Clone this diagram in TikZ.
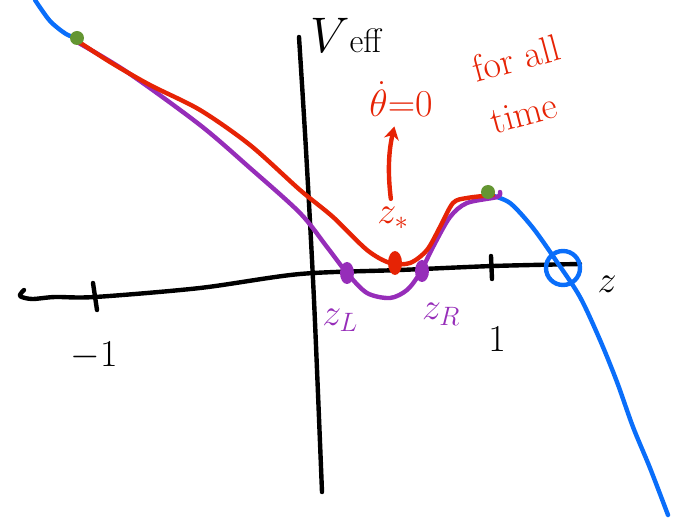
\RequirePackage{fix-cm}
\documentclass[tikz,border=0pt]{standalone}
\usepackage{amsmath,amssymb}
\usepackage{xcolor}
\usepackage{tikz}
\usetikzlibrary{arrows.meta,positioning,calc}
\definecolor{penblue}{RGB}{10,110,250}
\definecolor{penred}{RGB}{230,35,5}
\definecolor{penpurple}{RGB}{150,45,185}
\definecolor{pengreen}{RGB}{100,150,50}

\begin{document}
\begin{tikzpicture}[x=1pt,y=-1pt,line cap=round,line join=round,
  pen/.style={line width=4.4pt},
  hand/.style={inner sep=0pt,font=\fontsize{38}{38}\selectfont}]
\useasboundingbox (0,0) rectangle (678,529);
% axes
\draw[pen] plot[smooth] coordinates {(24,290) (20,296) (32,299) (55,297) (95,297) (200,288) (300,274) (400,270) (493,266) (580,264)};
\draw[pen] plot[smooth] coordinates {(299,37) (306,150) (314,300) (322,492)};
\draw[pen] (93,283) -- (97,310);
\draw[pen] (491,256) -- (492,279);
\node[hand] (mone) at (94,356) {$-1$};
\node[hand] (one) at (497,339) {$1$};
\node[hand] (zax) at (607,284) {$z$};
\node[hand,anchor=base west,font=\fontsize{50}{50}\selectfont] (veff) at (310,53) {$V${\fontsize{34}{34}\selectfont eff}};
% potential
\draw[pen,penblue] plot[smooth] coordinates {(35,0) (50,21) (66,34) (77,38)};
\draw[pen,penblue] plot[smooth] coordinates {(490,195) (510,203) (533,228) (557,262) (580,297) (600,340) (617,382) (633,427) (650,468) (668,515)};
\draw[pen,penblue] (563,268) circle (17);
\draw[pen,penpurple] plot[smooth] coordinates {(77,42) (127,72) (200,125) (250,168) (300,213) (327,247) (347,273) (367,293) (390,298) (407,290) (420,273) (433,247) (450,217) (467,203) (497,197) (500,192)};
\draw[pen,penred] plot[smooth] coordinates {(73,38) (110,62) (150,85) (200,110) (250,145) (300,190) (333,217) (367,250) (390,263) (410,263) (427,250) (440,227) (453,203) (467,198) (493,195)};
\foreach \p in {(77,38),(488,192)}
  \fill[pengreen] \p circle (7);
\fill[penpurple] (347,273) ellipse (7 and 11);
\fill[penpurple] (422,271) ellipse (7 and 11);
\fill[penred] (395,263) ellipse (7 and 12);
% labels
\node[hand,penpurple] (zl) at (340,320) {$z_L$};
\node[hand,penpurple] (zr) at (441,314) {$z_R$};
\node[hand,penred] (zstar) at (393,218) {$z_*$};
\node[hand,penred] (theta) at (401,99) {$\dot\theta{=}0$};
\node[hand,penred,rotate=15] (forall) at (516,58) {for all};
\node[hand,penred,rotate=15] (time) at (524,114) {time};
\draw[pen,penred,-{Stealth[length=13pt,width=15pt]},shorten <=8pt,shorten >=10pt] (zstar) to[bend left=10] (theta);
\end{tikzpicture}
\end{document}
